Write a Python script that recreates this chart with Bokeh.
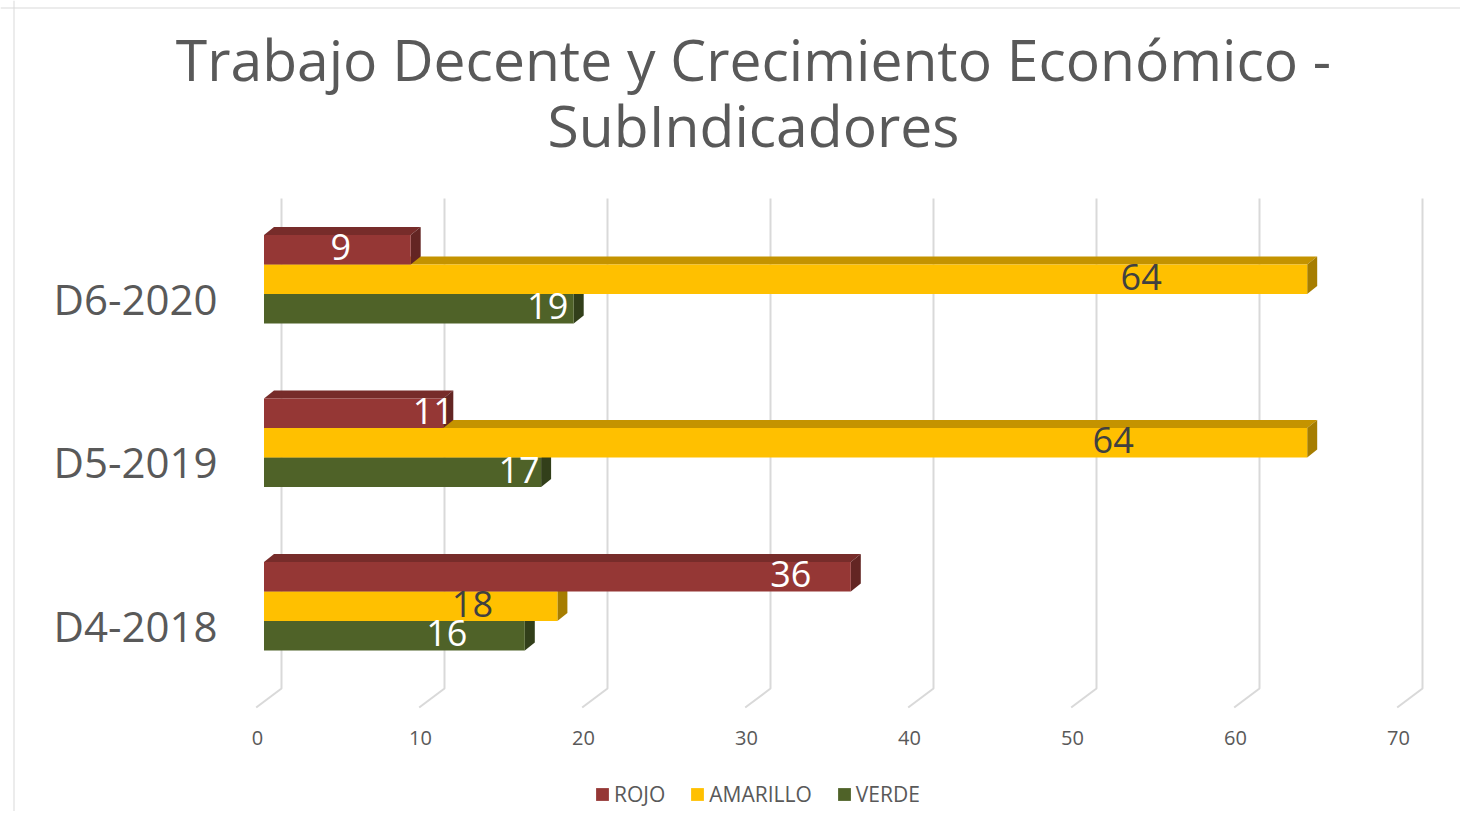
from bokeh.plotting import figure
from bokeh.models import Range1d, Span, Legend, LegendItem, ColumnDataSource
from bokeh.embed import file_html
from bokeh.resources import INLINE
from bokeh.core.properties import value

# ---------------- data ----------------
categories = ["D4-2018", "D5-2019", "D6-2020"]
series_names = ["ROJO", "AMARILLO", "VERDE"]
rojo = [36, 11, 9]
amarillo = [18, 64, 64]
verde = [16, 17, 19]
x_ticks = [0, 10, 20, 30, 40, 50, 60, 70]
title_lines = ["Trabajo Decente y Crecimiento Económico -", "SubIndicadores"]

# ---------------- styling / geometry ----------------
W, H = 1460, 811
OX, OY = 0, 0
X0PX, XS = 263.5, 16.3      # pixel of value 0 (front plane) and px per unit
Y0PX, YS = 627.0, 163.5     # pixel of category index 0 and px per category
KB = 0.41                   # baseline correction (fraction of font size)


def X(px):
    return (px - X0PX) / XS


def Y(py):
    return (Y0PX - py) / YS


def TY(py, size):
    return Y(py - KB * size)


FONT = "Open Sans"
GREY = "#595959"
DX = 10 / XS   # 3D depth of bars
DY = 8 / YS

series_style = {
    "ROJO": dict(front="#953735", top="#772C2A", side="#632523", lab="white", bot=36, tp=65.5),
    "AMARILLO": dict(front="#FFC000", top="#C49300", side="#A67D00", lab="#404040", bot=6.5, tp=36),
    "VERDE": dict(front="#4F6228", top="#3F4E20", side="#323F1A", lab="white", bot=-23, tp=6.5),
}
# horizontal label shifts (px, relative to bar end), per category
label_shift = {
    "ROJO": [-60, -10, -70],
    "AMARILLO": [-85, -194, -166],
    "VERDE": [-78, -22, -26],
}
values = {"ROJO": rojo, "AMARILLO": amarillo, "VERDE": verde}

p = figure(width=W, height=H,
           x_range=Range1d(X(OX), X(OX + W)),
           y_range=Range1d(Y(OY + H), Y(OY)),
           output_backend="svg", toolbar_location=None,
           x_axis_location=None, y_axis_location=None,
           min_border=0, outline_line_color=None,
           background_fill_color="white", border_fill_color="white")
p.grid.visible = False

# chart border (left and top visible)
p.add_layout(Span(location=X(13.5), dimension="height", line_color="#D9D9D9", line_width=1))
p.add_layout(Span(location=Y(7.5), dimension="width", line_color="#D9D9D9", line_width=1))

# 3D grid: back wall vertical lines + floor diagonals
back_dx = 17.5 / XS
floor_dx = -7.8 / XS
gx = [[t + back_dx, t + back_dx, t + floor_dx] for t in x_ticks]
gy = [[Y(198), Y(688), Y(707)] for _ in x_ticks]
p.multi_line(xs=gx, ys=gy, line_color="#D9D9D9", line_width=2)

# bars
front_renderers = {}
for s in ["VERDE", "AMARILLO", "ROJO"]:
    st = series_style[s]
    vals = values[s]
    idx = list(range(len(categories)))
    bottoms = [i + st["bot"] / YS for i in idx]
    tops = [i + st["tp"] / YS for i in idx]
    top_xs = [[0, v, v + DX, DX] for v in vals]
    top_ys = [[t, t, t + DY, t + DY] for t in tops]
    p.patches(xs=top_xs, ys=top_ys, fill_color=st["top"], line_color=None)
    side_xs = [[v, v + DX, v + DX, v] for v in vals]
    side_ys = [[b, b + DY, t + DY, t] for b, t in zip(bottoms, tops)]
    p.patches(xs=side_xs, ys=side_ys, fill_color=st["side"], line_color=None)
    front_renderers[s] = p.quad(left=[0] * len(vals), right=vals, bottom=bottoms, top=tops,
                                fill_color=st["front"], line_color=None)

# data labels
LS = 36
for s in ["VERDE", "AMARILLO", "ROJO"]:
    st = series_style[s]
    vals = values[s]
    centers = [i + (st["bot"] + st["tp"]) / 2 / YS - (12.5 - KB * LS) / YS for i in range(len(categories))]
    src = ColumnDataSource(dict(x=vals, y=centers, t=[str(v) for v in vals], dx=label_shift[s]))
    p.text(x="x", y="y", text="t", x_offset="dx", source=src,
           text_align="center", text_baseline="alphabetic",
           text_font=value(FONT), text_font_size=f"{LS}px", text_color=st["lab"])

# category labels
CS = 42
p.text(x=[X(217)] * len(categories), y=[i - (15 - KB * CS) / YS for i in range(len(categories))],
       text=categories, text_align="right", text_baseline="alphabetic",
       text_font=value(FONT), text_font_size=f"{CS}px", text_color=GREY)

# value axis labels
TS = 20
p.text(x=x_ticks, y=[TY(745.5, TS)] * len(x_ticks), text=[str(t) for t in x_ticks],
       x_offset=-6.5, text_align="center", text_baseline="alphabetic",
       text_font=value(FONT), text_font_size=f"{TS}px", text_color=GREY)

# title
HS = 57
p.text(x=[X(753)] * 2, y=[TY(82, HS), TY(148, HS)], text=title_lines,
       text_align="center", text_baseline="alphabetic",
       text_font=value(FONT), text_font_size=f"{HS}px", text_color=GREY)

legend = Legend(items=[LegendItem(label=s, renderers=[front_renderers[s]]) for s in series_names],
                orientation="horizontal", location=(594, 3),
                glyph_width=16, glyph_height=16, label_standoff=4, spacing=24,
                padding=0, margin=0, border_line_color=None, background_fill_alpha=0,
                label_text_font=FONT, label_text_font_size="21px", label_text_color=GREY)
p.add_layout(legend)

open("out.html", "w").write(file_html(p, INLINE))
